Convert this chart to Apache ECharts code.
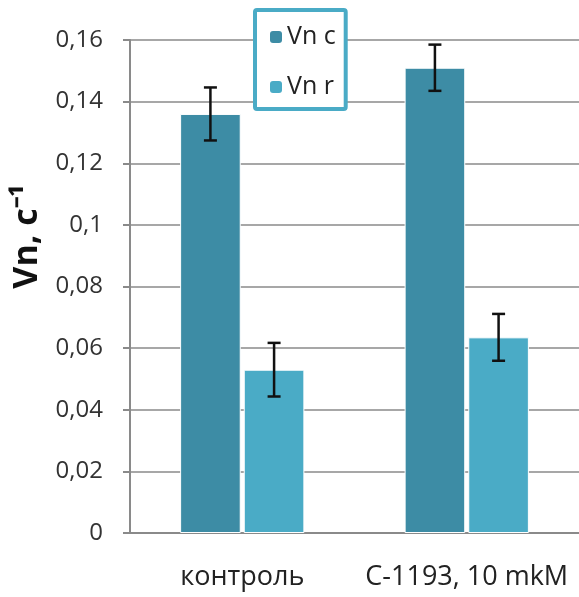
<!DOCTYPE html>
<html>
<head>
<meta charset="utf-8">
<script src="https://cdn.jsdelivr.net/npm/echarts@6/dist/echarts.min.js"></script>
<style>
  html, body { margin: 0; padding: 0; background: #fff; }
  #main { width: 579px; height: 597px; }
</style>
</head>
<body>
<div id="main"></div>
<script>
// data
var categories = ['контроль', 'С-1193, 10 mkM'];
var vnC = [0.136, 0.151];
var vnR = [0.053, 0.0635];
var vnCErr = [0.0086, 0.0075];
var vnRErr = [0.0087, 0.0076];

var colorC = '#3d8ca5';
var colorR = '#4aabc6';

// error bar points: [category index, low, high]
function errData(vals, errs) {
  var out = [];
  for (var i = 0; i < vals.length; i++) {
    out.push([i, vals[i] - errs[i], vals[i] + errs[i]]);
  }
  return out;
}

// off = offset of bar center inside the category band (fraction of band)
function errSeries(name, vals, errs, off) {
  return {
    name: name + ' err',
    type: 'custom',
    z: 10,
    data: errData(vals, errs),
    encode: { x: 0, y: [1, 2] },
    renderItem: function (params, api) {
      var i = api.value(0);
      var lo = api.coord([i, api.value(1)]);
      var hi = api.coord([i, api.value(2)]);
      var band = api.size([1, 0])[0];
      var x = lo[0] + band * off;
      var cap = 6.5;
      var st = { stroke: '#111', lineWidth: 2.5 };
      return {
        type: 'group',
        children: [
          { type: 'line', shape: { x1: x, y1: hi[1], x2: x, y2: lo[1] }, style: st },
          { type: 'line', shape: { x1: x - cap, y1: hi[1], x2: x + cap, y2: hi[1] }, style: st },
          { type: 'line', shape: { x1: x - cap, y1: lo[1], x2: x + cap, y2: lo[1] }, style: st }
        ]
      };
    }
  };
}

var chart = echarts.init(document.getElementById('main'));
var font = '"Open Sans", sans-serif';

chart.setOption({
  animation: false,
  textStyle: { fontFamily: font },
  grid: { left: 130, top: 40, bottom: 64, right: -3 },
  legend: {
    data: ['Vn c', 'Vn r'],
    orient: 'vertical',
    left: 255,
    top: 10,
    padding: [12, 10, 7, 15],
    itemGap: 20,
    itemWidth: 12,
    itemHeight: 12,
    itemTextGap: 9,
    itemStyle: { borderWidth: 0 },
    backgroundColor: '#fff',
    borderColor: '#4aabc6',
    borderWidth: 4,
    borderRadius: 2,
    textStyle: { fontSize: 25, color: '#222', lineHeight: 30, fontFamily: font }
  },
  xAxis: {
    type: 'category',
    data: categories,
    axisLine: { lineStyle: { color: '#8a8a8a', width: 2 } },
    axisTick: { length: 8, lineStyle: { color: '#8a8a8a', width: 2 } },
    axisLabel: { interval: 0, hideOverlap: false, fontSize: 27, color: '#222', margin: 31, fontFamily: font }
  },
  yAxis: {
    type: 'value',
    min: 0,
    max: 0.16,
    interval: 0.02,
    name: 'Vn, c⁻¹',
    nameLocation: 'middle',
    nameGap: 84,
    nameTextStyle: { fontSize: 34, fontWeight: 'bold', color: '#111', padding: [0, 0, 0, 100], fontFamily: font },
    axisLine: { show: true, lineStyle: { color: '#8a8a8a', width: 2 } },
    axisTick: { show: true, length: 7, lineStyle: { color: '#8a8a8a', width: 2 } },
    splitLine: { lineStyle: { color: '#8a8a8a', width: 1.6 } },
    axisLabel: {
      fontSize: 24,
      color: '#333',
      margin: 27,
      fontFamily: font,
      formatter: function (v) { return String(parseFloat(v.toFixed(2))).replace('.', ','); }
    }
  },
  series: [
    {
      name: 'Vn c', type: 'bar', data: vnC, barWidth: '27%', barGap: '5%',
      itemStyle: { color: colorC, borderColor: '#fff', borderWidth: 1 }
    },
    {
      name: 'Vn r', type: 'bar', data: vnR, barWidth: '27%', barGap: '5%',
      itemStyle: { color: colorR, borderColor: '#fff', borderWidth: 1 }
    },
    errSeries('Vn c', vnC, vnCErr, -0.1418),
    errSeries('Vn r', vnR, vnRErr, 0.1418)
  ]
});
</script>
</body>
</html>
